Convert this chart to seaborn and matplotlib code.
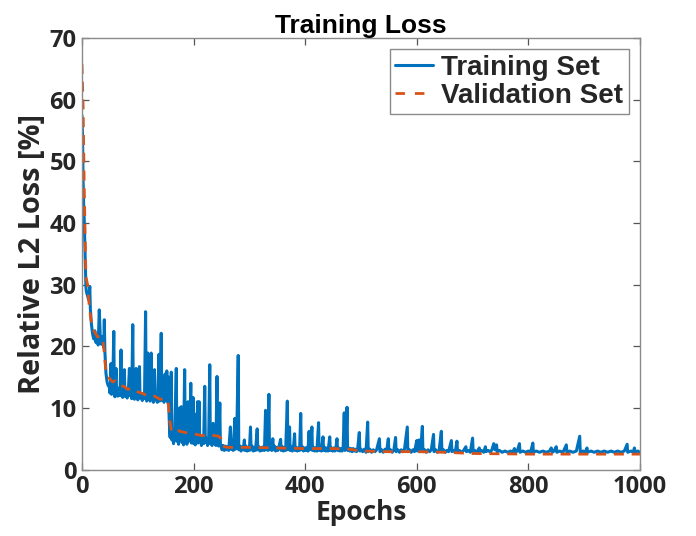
import numpy as np
import pandas as pd
import matplotlib
matplotlib.use("Agg")
import matplotlib.pyplot as plt
import seaborn as sns

# ---------------- data ----------------
train_epochs = [
    0, 1, 2, 3, 4, 5, 6, 7, 8, 10, 12, 14, 15, 17, 19, 21, 23, 25, 27, 29, 31, 33, 35, 37, 39, 40, 41, 42, 43, 45, 47, 49,
    50, 51, 52, 53, 55, 57, 58, 59, 61, 62, 64, 66, 68, 70, 71, 73, 74, 76, 77, 79, 81, 83, 85, 86, 88, 89, 91, 92, 94, 95,
    97, 98, 100, 101, 103, 104, 106, 108, 110, 112, 114, 115, 116, 118, 119, 121, 122, 124, 125, 127, 128, 130, 131, 133,
    135, 136, 138, 139, 140, 142, 143, 145, 147, 149, 150, 152, 153, 155, 156, 157,
    158, 160, 161, 163, 164, 166, 169, 170, 172, 173, 175, 176, 178, 179, 181, 182, 184, 185, 187, 188, 190, 191, 193, 195,
    196, 198, 199, 200, 202, 203, 205, 206, 207, 208, 210, 211, 213, 214, 216, 218, 220, 221, 223, 225, 227, 229, 230, 232,
    233, 235, 236, 238, 240, 242, 243, 245, 247, 248, 250,
    251, 253, 255, 257, 259, 261, 263, 266, 267, 269, 271, 274, 275, 277, 280, 281, 283, 285, 287, 289, 291, 292, 294, 296,
    298, 300, 302, 303, 305, 307, 309, 311, 314, 315, 317, 319, 321, 323, 325, 327, 329, 330, 332, 333, 335, 336, 338, 340,
    342, 343, 345, 347, 349, 351, 353, 356, 357, 359, 361, 363, 365, 368, 369, 370, 372, 373, 375, 377, 379, 381, 382, 384,
    386, 388, 390, 392, 393, 395, 397, 399, 401, 403, 405, 407, 408, 410, 412, 413, 415, 417, 419, 421, 424, 425, 427, 429,
    432, 433, 435, 437, 439, 441, 444, 445, 447, 449, 451, 453, 455, 457, 458, 460, 462, 464, 466, 468, 470, 471, 473, 475,
    476, 478, 480, 482, 484, 486, 488, 490, 492, 494, 497, 498, 500,
    503, 506, 509, 512, 513, 516, 519, 522, 525, 528, 533, 534, 537, 540, 543, 546, 549, 550, 553, 556, 559, 562, 563, 566,
    569, 572, 575, 578, 583, 584, 587, 590, 593, 596, 600, 601, 604, 605, 607, 610, 611, 614, 617, 620, 623, 626, 630, 631,
    634, 637, 640, 644, 645, 648, 651, 654, 657, 662, 663, 666, 669, 672, 673, 676, 680, 684, 688, 689, 692, 696, 700, 701,
    704, 708, 712, 713, 716, 720, 723, 724, 728, 732, 735, 738, 740, 743, 744, 748, 753, 758, 763, 768, 772, 775, 776, 780,
    784, 785, 790, 795, 800, 804, 808, 809, 814, 820, 826, 832, 838, 841, 843, 846, 850, 851, 856, 862, 868, 869, 874, 880,
    886, 892, 893, 898, 902, 905, 906, 912, 918, 924, 930, 936, 942, 948, 954, 960, 966, 972, 977, 978, 984, 988, 990, 991,
    996, 1000,
]
train_loss = [
    57.4, 54, 47, 43, 40.6, 37, 33, 29.7, 28.8, 28.2, 27.5, 29.7, 26, 23.5, 22, 21.2, 22.5, 20.6, 21.3, 20.2, 25.9, 21, 20.3,
    21.6, 19.8, 24.3, 19.2, 17.5, 15.6, 14.2, 13.6, 13.4,
    12.4, 13, 17.2, 12.2, 13.1, 22.4, 12.5, 11.8, 16.4, 12.6, 11.9, 13.2, 12, 19.4, 12.3, 11.7, 12.9, 16.2, 11.9, 12.8, 11.6,
    12.6, 16.4, 12, 12.7, 11.5, 23.5, 12.1, 11.4, 12.6, 16.4, 11.9, 11.3, 12.4, 16.7, 11.6, 12.3, 11.2, 12.1, 11.5, 25.6,
    11.8, 11.1, 18.9, 11.5, 12, 11.1, 18.9, 11.4, 11.9, 10.9, 16.2, 11.3, 11.8, 10.9, 11.7, 18.7, 11.1, 11.6, 22.1, 11.2,
    11.8, 10.9, 15.5, 11.4, 16, 11, 15, 9, 6.5,
    5.2, 15.8, 4.8, 5.6, 4.2, 5.3, 16.4, 4.6, 5.5, 4.1, 10, 4.8, 10.2, 4.4, 5.4, 4.0, 16.2, 4.7, 5.3, 4.1, 11, 4.6, 5.2, 14,
    4.3, 5.4, 11.7, 4.2, 5.1, 4.0, 9, 4.6, 11, 4.3, 11, 4.5, 5.2, 3.9, 5, 4.2, 13.5, 4.4, 5.1, 3.9, 4.8, 17, 4.2, 5, 3.9,
    7.5, 4.3, 4.9, 3.9, 15.1, 4.4, 3.8, 10.8, 4.2, 3.6,
    3.2, 3.9, 3.1, 3.8, 3.2, 3.7, 3.1, 6.9, 3.3, 3.8, 3.1, 8.3, 3.3, 3.9, 18.5, 3.2, 3.8, 3.0, 3.7, 3.2, 4.8, 3.1, 3.8, 3.0,
    3.6, 3.1, 6.9, 3.2, 3.8, 3.0, 3.6, 3.1, 6.6, 3.2, 3.7, 3.0, 3.6, 3.1, 3.7, 3.1, 9.6, 3.3, 3.8, 3.1, 12.2, 3.2, 3.7, 3.1,
    5, 3.2, 3.8, 3.0, 3.6, 3.1, 3.7, 4.9, 3.1, 3.7, 3.0, 3.6, 3.1, 11.1, 3.2, 3.6, 6.9, 3.1, 3.7, 3.0, 3.5, 5.8, 3.1, 3.6,
    3.0, 3.5, 3.1, 9.1, 3.2, 3.7, 3.0, 3.5, 3.1, 3.6, 3.0, 6.2, 3.2, 3.5, 6.9, 3.1, 3.6, 3.0, 3.5, 3.0, 7.6, 3.1, 3.6, 3.0,
    5.3, 3.1, 3.6, 3.0, 3.5, 3.0, 5.3, 3.1, 3.5, 3.0, 3.5, 3.0, 3.4, 5, 3.1, 3.5, 3.0, 3.4, 3.0, 3.5, 9.2, 3.1, 3.4, 10.1,
    3.1, 3.5, 3.0, 3.4, 2.9, 3.4, 3.0, 3.3, 2.9, 3.3, 6, 3.0, 3.3,
    2.9, 3.3, 2.8, 7.7, 2.9, 3.3, 2.8, 3.2, 2.9, 3.2, 5, 2.9, 3.2, 2.8, 3.3, 2.9, 5, 2.9, 3.2, 2.8, 3.2, 5.2, 2.9, 3.2,
    2.8, 3.2, 2.9, 3.3, 6.9, 2.9, 3.2, 2.8, 3.2, 2.9, 4.7, 3.0, 4.8, 2.9, 3.2, 7.0, 2.9, 3.2, 2.8, 3.2, 2.9, 3.2, 5.7, 2.9,
    3.2, 2.8, 3.1, 6.2, 2.9, 3.2, 2.8, 3.1, 2.9, 4.7, 2.9, 3.1, 2.8, 4.6, 2.9, 3.1, 2.8, 3.1, 3.7, 2.9, 3.1, 2.8, 5.1, 2.9,
    3.1, 2.8, 3.5, 2.9, 3.1, 2.8, 3.7, 2.9, 3.1, 2.8, 3.3, 4.2, 3.2, 4.0, 2.9, 3.1, 2.8, 3.0, 2.8, 3.0, 2.8, 3.4, 2.8, 3.0,
    4.2, 2.8, 3.0, 2.8, 3.0, 2.8, 4.3, 2.8, 3.0, 2.8, 3.0, 2.8, 3.0, 3.5, 2.8, 3.0, 3.7, 2.8, 3.0, 2.8, 4.0, 2.8, 3.0, 2.8,
    3.0, 5.4, 2.8, 3.0, 2.8, 3.5, 2.8, 3.0, 2.8, 3.0, 2.8, 3.0, 2.8, 3.0, 2.8, 3.0, 2.8, 3.0, 4.1, 2.8, 3.0, 2.8, 3.5, 2.8,
    3.0, 2.8,
]
val_epochs = [0, 2, 4, 7, 10, 13, 16, 22, 28, 34, 38, 40, 43, 49, 55, 60, 68, 75, 82, 90, 100, 110, 120, 130, 140, 150,
              155, 157, 160, 166, 175, 185, 200, 215, 230, 245, 249, 252, 260, 300, 350, 400, 450, 480, 500, 550, 600,
              650, 700, 750, 800, 900, 1000]
val_loss = [65.8, 59, 46, 31.3, 30.0, 26.5, 24.3, 22.4, 21.5, 21.6, 20.5, 18.9, 15.6, 14.8, 14.2, 14.4, 13.6, 13.5, 13.0,
            13.2, 12.6, 12.3, 11.8, 11.9, 11.4, 11.5, 10.5, 8.0, 6.5, 6.9, 6.2, 6.0, 5.8, 5.5, 5.6, 5.4, 5.0, 3.8, 3.6,
            3.6, 3.5, 3.4, 3.4, 3.3, 3.0, 2.9, 2.9, 2.8, 2.6, 2.55, 2.5, 2.5, 2.5]

series_names = ["Training Set", "Validation Set"]
x_ticks = [0, 200, 400, 600, 800, 1000]
y_ticks = [0, 10, 20, 30, 40, 50, 60, 70]

# ---------------- plotting ----------------
sns.set_style("white")
plt.rcParams["font.family"] = ["Open Sans", "DejaVu Sans"]

fig = plt.figure(figsize=(6.96, 5.36), dpi=100)
ax = fig.add_axes([0.1178, 0.124, 0.8017, 0.8051])

blue = "#0072BD"
orange = "#D95319"

sns.lineplot(x=train_epochs, y=train_loss, ax=ax, color=blue, linewidth=2.2,
             label=series_names[0], sort=True)
sns.lineplot(x=val_epochs, y=val_loss, ax=ax, color=orange, linewidth=2.0,
             label=series_names[1], sort=True, linestyle=(0, (3.6, 2.8)))

ax.set_xlim(0, 1000)
ax.set_ylim(0, 70)
ax.set_xticks(x_ticks)
ax.set_yticks(y_ticks)
ax.set_xticklabels([str(t) for t in x_ticks])
ax.set_yticklabels([str(t) for t in y_ticks])

for sp in ax.spines.values():
    sp.set_visible(True)
    sp.set_color("#8a8a8a")
    sp.set_linewidth(1.0)

ax.tick_params(axis="both", which="both", direction="in", length=5, width=0.9,
               color="#555555", top=True, right=True, bottom=True, left=True,
               labelsize=17, labelcolor="#262626", pad=4)
for lab in ax.get_xticklabels() + ax.get_yticklabels():
    lab.set_fontweight("bold")

ax.set_xlabel("Epochs", fontsize=19, fontweight="bold", color="#262626", labelpad=0)
ax.set_ylabel("Relative L2 Loss [%]", fontsize=20.8, fontweight="bold", color="#262626", labelpad=2)
ax.set_title("Training Loss", fontsize=19, fontweight="bold", color="black",
             family=["Liberation Sans", "DejaVu Sans"], pad=3)

leg = ax.legend(loc="upper right", frameon=True, fancybox=False,
                edgecolor="#8a8a8a", framealpha=1.0, handlelength=1.35,
                handletextpad=0.3, borderpad=0.2, labelspacing=0.08,
                borderaxespad=0.4,
                prop={"family": ["Liberation Sans", "DejaVu Sans"], "weight": "bold", "size": 20})
leg.get_frame().set_linewidth(1.0)
leg.get_lines()[1].set_linestyle((0, (3.4, 3.6)))

fig.savefig("out.png", dpi=100)
